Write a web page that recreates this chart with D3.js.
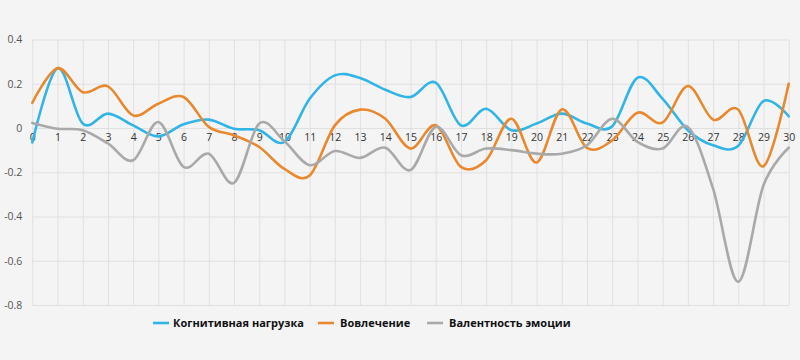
<!DOCTYPE html>
<html><head><meta charset="utf-8">
<script src="https://cdn.jsdelivr.net/npm/d3@7"></script>
<style>
html,body{margin:0;padding:0;background:#f4f4f4;}
svg{display:block;font-family:"Open Sans","Noto Sans",sans-serif;}
</style></head>
<body>
<svg id="chart" width="800" height="360"></svg>
<script>
const categories = d3.range(0, 31);
const cognitiveLoad = [-0.065, 0.27, 0.02, 0.065, 0.012, -0.038, 0.017, 0.038, -0.003, -0.01, -0.063, 0.132, 0.238, 0.226, 0.173, 0.14, 0.205, 0.012, 0.087, -0.01, 0.02, 0.065, 0.02, 0.008, 0.227, 0.132, -0.01, -0.078, -0.08, 0.122, 0.053];
const engagement = [0.114, 0.27, 0.162, 0.188, 0.057, 0.11, 0.14, 0.005, -0.033, -0.086, -0.185, -0.215, 0.012, 0.083, 0.042, -0.093, 0.012, -0.176, -0.146, 0.042, -0.156, 0.084, -0.09, -0.056, 0.069, 0.025, 0.19, 0.038, 0.083, -0.173, 0.2];
const valence = [0.023, -0.003, -0.01, -0.07, -0.146, 0.027, -0.176, -0.116, -0.248, 0.02, -0.06, -0.168, -0.104, -0.135, -0.089, -0.19, 0.005, -0.123, -0.093, -0.1, -0.116, -0.116, -0.078, 0.042, -0.063, -0.093, 0.005, -0.274, -0.695, -0.259, -0.089];
const yTicks = [0.4, 0.2, 0, -0.2, -0.4, -0.6, -0.8];
const yTickLabels = ["0.4", "0.2", "0", "-0.2", "-0.4", "-0.6", "-0.8"];
const seriesNames = ["Когнитивная нагрузка", "Вовлечение", "Валентность эмоции"];
const seriesColors = ["#33b4e6", "#e8892f", "#a9a9a9"];

const series = [cognitiveLoad, engagement, valence].map((vals, i) => ({
  name: seriesNames[i], color: seriesColors[i], values: vals
}));

const svg = d3.select("#chart");
const pL = 32.3, pR = 788.7, pT = 39.5, pB = 305;
const x = d3.scaleLinear().domain([0, 30]).range([pL, pR]);
const y = d3.scaleLinear().domain([-0.8, 0.4]).range([pB, pT]);

// grid
const gx = svg.append("g").attr("transform", `translate(0,${pB})`)
  .call(d3.axisBottom(x).tickValues(categories).tickSize(-(pB - pT)).tickFormat(""));
gx.select(".domain").remove();
gx.selectAll("line").attr("stroke", "#e0e0e0").attr("stroke-width", 1);
const gy = svg.append("g").attr("transform", `translate(${pL},0)`)
  .call(d3.axisLeft(y).tickValues(yTicks).tickSize(-(pR - pL)).tickFormat(""));
gy.select(".domain").remove();
gy.selectAll("line").attr("stroke", "#e0e0e0").attr("stroke-width", 1);

// y labels
const yl = svg.append("g").attr("transform", `translate(${pL},0)`)
  .call(d3.axisLeft(y).tickValues(yTicks).tickSize(0).tickPadding(10)
    .tickFormat((d, i) => yTickLabels[i]));
yl.select(".domain").remove();
yl.selectAll("text").attr("font-size", 10.5).attr("fill", "#555")
  .attr("font-family", "'Open Sans','Noto Sans',sans-serif");

// x labels at zero line
const xl = svg.append("g").attr("transform", `translate(0,${y(0)})`)
  .call(d3.axisBottom(x).tickValues(categories).tickSize(0).tickPadding(6).tickFormat(d3.format("d")));
xl.select(".domain").remove();
xl.selectAll("text").attr("font-size", 10.5).attr("fill", "#333")
  .attr("font-family", "'Open Sans','Noto Sans',sans-serif");

// lines
const line = d3.line().x((d, i) => x(categories[i])).y(d => y(d)).curve(d3.curveCardinal.tension(0));
svg.append("g").selectAll("path").data(series).join("path")
  .attr("d", s => line(s.values))
  .attr("fill", "none").attr("stroke", s => s.color).attr("stroke-width", 2.6)
  .attr("stroke-linejoin", "round").attr("stroke-linecap", "round");

// legend
const legendX = [153, 318, 427];
const lg = svg.append("g").selectAll("g").data(series).join("g")
  .attr("transform", (s, i) => `translate(${legendX[i]},323)`);
lg.append("line").attr("x1", 0).attr("x2", 16).attr("y1", 0).attr("y2", 0)
  .attr("stroke", s => s.color).attr("stroke-width", 2.6);
lg.append("text").attr("x", (s, i) => i === 0 ? 20 : 22).attr("y", 4)
  .text(s => s.name)
  .attr("font-size", 11).attr("font-weight", "bold").attr("fill", "#111")
  .attr("font-family", "'Open Sans','Noto Sans',sans-serif");
</script>
</body></html>
